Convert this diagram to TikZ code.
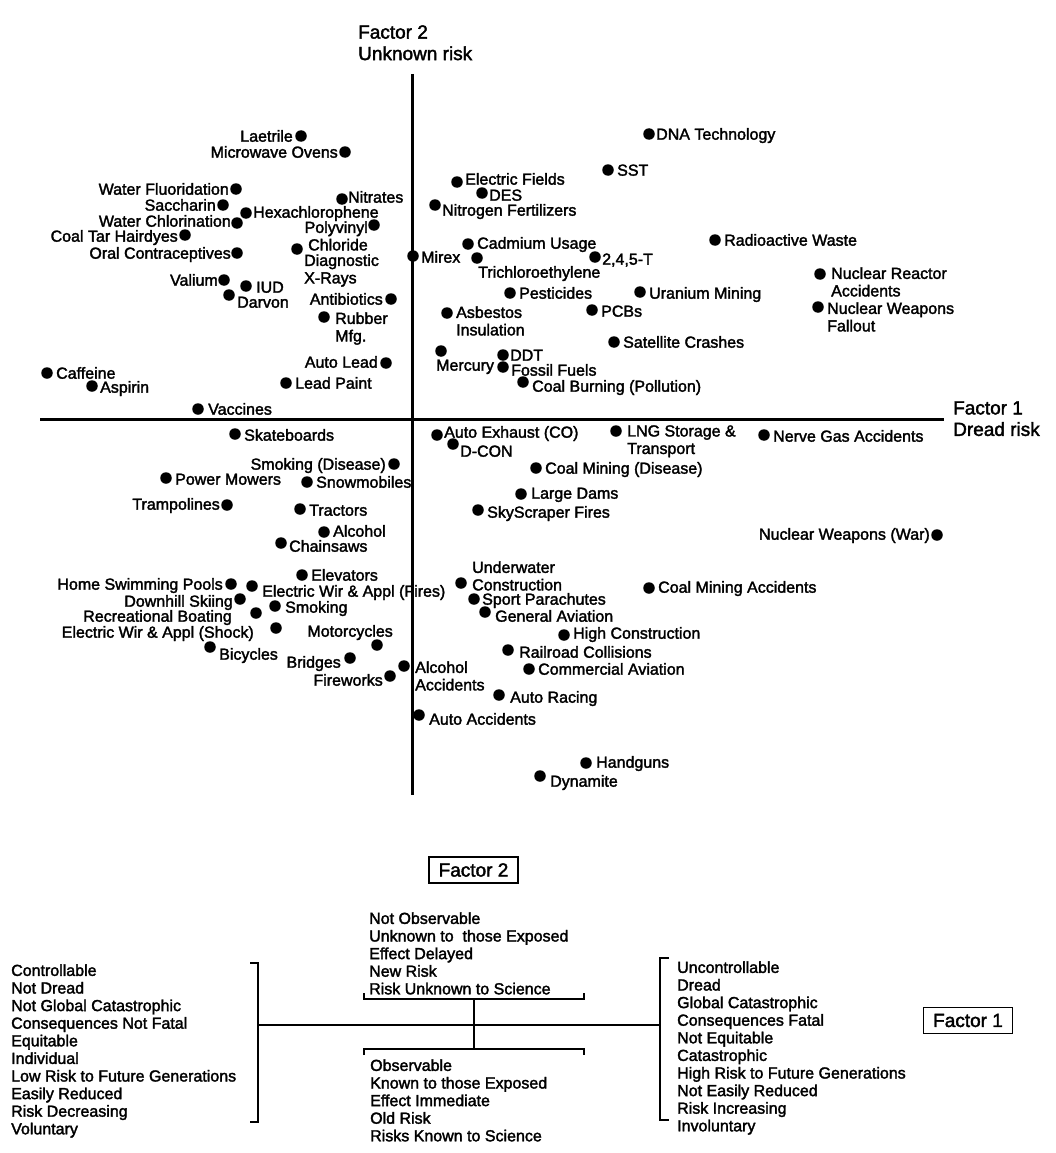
\documentclass[tikz,border=0pt]{standalone}
\usepackage{fontspec}
\setmainfont{Liberation Sans}[FakeBold=2]
% one hazard: a dot plus its label
\newcommand\riskpt[7]{\node[dot] (d#1) at (#2,#3) {};\node[#4] (t#1) at (#5,#6) {#7};}
\begin{document}
\begin{tikzpicture}[x=1pt,y=-1pt,
  dot/.style={circle,fill=black,inner sep=0pt,minimum size=11.5pt},
  lbl/.style={inner sep=0pt,font=\fontsize{16}{17.5}\selectfont},
  le/.style={lbl,anchor=base west,yshift=-5.7pt},
  lw/.style={lbl,anchor=base east,yshift=-5.7pt},
  lm/.style={lbl,anchor=north west,align=left,yshift=5.9pt},
  lmr/.style={lbl,anchor=north east,align=right,yshift=5.9pt},
  axis/.style={line width=3pt},
  brk/.style={line width=2.4pt},
  fbox/.style={draw,line width=1.6pt,inner sep=0pt,minimum width=89pt,minimum height=26pt,font=\fontsize{19}{22}\selectfont},
  axlab/.style={inner sep=0pt,anchor=north west,align=left,yshift=6.9pt,font=\fontsize{19}{21.5}\selectfont},
  list/.style={inner sep=0pt,anchor=north west,align=left,yshift=5.9pt,font=\fontsize{16}{17.6}\selectfont}
]
\fill[white] (0,0) rectangle (1055,1153);
\useasboundingbox (0,0) rectangle (1055,1153);

% axes
\coordinate (vtop) at (412,74);
\coordinate (vbot) at (412,795);
\coordinate (hl) at (40,419);
\coordinate (hr) at (944,419);
\draw[axis] (vtop) -- (vbot);
\draw[axis] (hl) -- (hr);
\node[axlab] (f2lab) at (358,32) {Factor 2\\Unknown risk};
\node[axlab] (f1lab) at (953,408) {Factor 1\\Dread risk};

% upper left quadrant
\riskpt{laet}{301}{136}{lw}{293}{136}{Laetrile}
\riskpt{micro}{345}{152}{lw}{338}{152}{Microwave Ovens}
\riskpt{wflu}{236}{189}{lw}{229}{189}{Water Fluoridation}
\riskpt{sacc}{223}{205}{lw}{216}{205}{Saccharin}
\riskpt{hexa}{246}{213}{le}{253}{212}{Hexachlorophene}
\riskpt{wchl}{237}{223}{lw}{231}{221}{Water Chlorination}
\riskpt{ctar}{185}{235}{lw}{178}{236}{Coal Tar Hairdyes}
\riskpt{oral}{237}{253}{lw}{231}{253}{Oral Contraceptives}
\riskpt{nitr}{342}{199}{le}{348}{197}{Nitrates}
\riskpt{poly}{374}{225}{lmr}{368}{227}{Polyvinyl\\Chloride}
\riskpt{xray}{297}{249}{lm}{304}{260}{Diagnostic\\X-Rays}
\riskpt{mirex}{413}{256}{le}{421}{257}{Mirex}
\riskpt{val}{224}{280}{lw}{218}{280}{Valium}
\riskpt{iud}{246}{286}{le}{256}{287}{IUD}
\riskpt{darv}{229}{295}{le}{237}{302}{Darvon}
\riskpt{anti}{391}{299}{lw}{383}{299}{Antibiotics}
\riskpt{rubb}{324}{317}{lm}{335}{318}{Rubber\\Mfg.}
\riskpt{alead}{386}{363}{lw}{378}{362}{Auto Lead}
\riskpt{lpaint}{286}{383}{le}{295}{383}{Lead Paint}
\riskpt{caff}{47}{373}{le}{56}{373}{Caffeine}
\riskpt{asp}{92}{386}{le}{100}{387}{Aspirin}
\riskpt{vacc}{198}{409}{le}{208}{409}{Vaccines}

% lower left quadrant
\riskpt{skate}{235}{434}{le}{244}{435}{Skateboards}
\riskpt{smokd}{394}{464}{lw}{386}{464}{Smoking (Disease)}
\riskpt{mow}{166}{478}{le}{175}{479}{Power Mowers}
\riskpt{snow}{307}{482}{le}{316}{482}{Snowmobiles}
\riskpt{tramp}{227}{505}{lw}{220}{504}{Trampolines}
\riskpt{tract}{300}{509}{le}{309}{510}{Tractors}
\riskpt{alc}{324}{532}{le}{333}{531}{Alcohol}
\riskpt{chain}{281}{543}{le}{289}{546}{Chainsaws}
\riskpt{elev}{302}{575}{le}{311}{575}{Elevators}
\riskpt{pool}{231}{584}{lw}{223}{584}{Home Swimming Pools}
\riskpt{ewf}{252}{586}{le}{262}{591}{Electric Wir \& Appl (Fires)}
\riskpt{ski}{240}{599}{lw}{233}{601}{Downhill Skiing}
\riskpt{smok}{275}{606}{le}{285}{607}{Smoking}
\riskpt{boat}{256}{613}{lw}{232}{616}{Recreational Boating}
\riskpt{ews}{276}{628}{lw}{254}{632}{Electric Wir \& Appl (Shock)}
\riskpt{moto}{377}{645}{lw}{393}{631}{Motorcycles}
\riskpt{bike}{210}{647}{le}{219}{654}{Bicycles}
\riskpt{bridge}{350}{658}{lw}{341}{662}{Bridges}
\riskpt{alcacc}{404}{666}{lm}{415}{667}{Alcohol\\Accidents}
\riskpt{fire}{390}{676}{lw}{383}{680}{Fireworks}
\riskpt{autoacc}{419}{715}{le}{429}{719}{Auto Accidents}

% upper right quadrant
\riskpt{dna}{649}{134}{le}{656}{134}{DNA Technology}
\riskpt{sst}{608}{170}{le}{617}{170}{SST}
\riskpt{efield}{457}{182}{le}{465}{179}{Electric Fields}
\riskpt{des}{482}{193}{le}{489}{195}{DES}
\riskpt{nfert}{435}{205}{le}{442}{210}{Nitrogen Fertilizers}
\riskpt{cadm}{468}{244}{le}{477}{243}{Cadmium Usage}
\riskpt{trich}{477}{258}{le}{478}{272}{Trichloroethylene}
\riskpt{tfive}{595}{257}{le}{602}{259}{2,4,5-T}
\riskpt{radw}{715}{240}{le}{724}{240}{Radioactive Waste}
\riskpt{nra}{820}{274}{lm}{831}{273}{Nuclear Reactor\\Accidents}
\riskpt{pest}{510}{293}{le}{519}{293}{Pesticides}
\riskpt{uran}{640}{292}{le}{649}{293}{Uranium Mining}
\riskpt{asb}{447}{313}{lm}{456}{312}{Asbestos\\Insulation}
\riskpt{pcb}{592}{310}{le}{601}{311}{PCBs}
\riskpt{nwf}{818}{307}{lm}{827}{308}{Nuclear Weapons\\Fallout}
\riskpt{sat}{614}{342}{le}{623}{342}{Satellite Crashes}
\riskpt{merc}{441}{351}{le}{436}{365}{Mercury}
\riskpt{ddt}{503}{355}{le}{510}{355}{DDT}
\riskpt{fossil}{503}{367}{le}{511}{370}{Fossil Fuels}
\riskpt{coalb}{523}{382}{le}{532}{386}{Coal Burning (Pollution)}

% lower right quadrant
\riskpt{exh}{437}{435}{le}{444}{432}{Auto Exhaust (CO)}
\riskpt{dcon}{453}{444}{le}{460}{451}{D-CON}
\riskpt{lng}{616}{431}{lm}{627}{431}{LNG Storage \&\\Transport}
\riskpt{nerve}{764}{435}{le}{773}{436}{Nerve Gas Accidents}
\riskpt{cmd}{536}{468}{le}{545}{468}{Coal Mining (Disease)}
\riskpt{dams}{521}{494}{le}{531}{493}{Large Dams}
\riskpt{sky}{478}{510}{le}{487}{512}{SkyScraper Fires}
\riskpt{nww}{937}{535}{lw}{930}{534}{Nuclear Weapons (War)}
\riskpt{uwc}{461}{583}{lm}{472}{567}{Underwater\\Construction}
\riskpt{para}{474}{599}{le}{482}{599}{Sport Parachutes}
\riskpt{gav}{485}{612}{le}{495}{616}{General Aviation}
\riskpt{cma}{649}{588}{le}{658}{587}{Coal Mining Accidents}
\riskpt{hcon}{564}{635}{le}{573}{633}{High Construction}
\riskpt{rail}{508}{650}{le}{519}{652}{Railroad Collisions}
\riskpt{cav}{529}{669}{le}{538}{669}{Commercial Aviation}
\riskpt{race}{499}{695}{le}{510}{697}{Auto Racing}
\riskpt{hand}{586}{763}{le}{596}{762}{Handguns}
\riskpt{dyn}{540}{776}{le}{550}{781}{Dynamite}

% factor key
\node[fbox] (f2box) at (473.5,870) {Factor 2};
\node[fbox] (f1box) at (968,1020.5) {Factor 1};

\node[list] (leftlist) at (11,970) {Controllable\\Not Dread\\Not Global Catastrophic\\Consequences Not Fatal\\Equitable\\Individual\\Low Risk to Future Generations\\Easily Reduced\\Risk Decreasing\\Voluntary};
\node[list] (unobs) at (369,918) {Not Observable\\Unknown to\ \ those Exposed\\Effect Delayed\\New Risk\\Risk Unknown to Science};
\node[list] (obs) at (370,1065) {Observable\\Known to those Exposed\\Effect Immediate\\Old Risk\\Risks Known to Science};
\node[list] (rightlist) at (677,967) {Uncontrollable\\Dread\\Global Catastrophic\\Consequences Fatal\\Not Equitable\\Catastrophic\\High Risk to Future Generations\\Not Easily Reduced\\Risk Increasing\\Involuntary};

% brackets joining the two poles
\coordinate (lb1) at (250,963);
\coordinate (lb2) at (258,963);
\coordinate (lb3) at (258,1122);
\coordinate (lb4) at (250,1122);
\coordinate (lbM) at (258,1025);
\coordinate (rbM) at (660,1025);
\coordinate (rb1) at (669,958);
\coordinate (rb2) at (660,958);
\coordinate (rb3) at (660,1120);
\coordinate (rb4) at (669,1120);
\coordinate (ub1) at (364,993);
\coordinate (ub2) at (364,999);
\coordinate (ub3) at (584,999);
\coordinate (ub4) at (584,993);
\coordinate (db1) at (364,1055);
\coordinate (db2) at (364,1049);
\coordinate (db3) at (584,1049);
\coordinate (db4) at (584,1055);
\coordinate (stT) at (474,999);
\coordinate (stB) at (474,1049);
\draw[brk] (lb1) -- (lb2) -- (lb3) -- (lb4);
\draw[brk] (rb1) -- (rb2) -- (rb3) -- (rb4);
\draw[brk] (lbM) -- (rbM);
\draw[brk] (ub1) -- (ub2) -- (ub3) -- (ub4);
\draw[brk] (db1) -- (db2) -- (db3) -- (db4);
\draw[brk] (stT) -- (stB);
\end{tikzpicture}
\end{document}
